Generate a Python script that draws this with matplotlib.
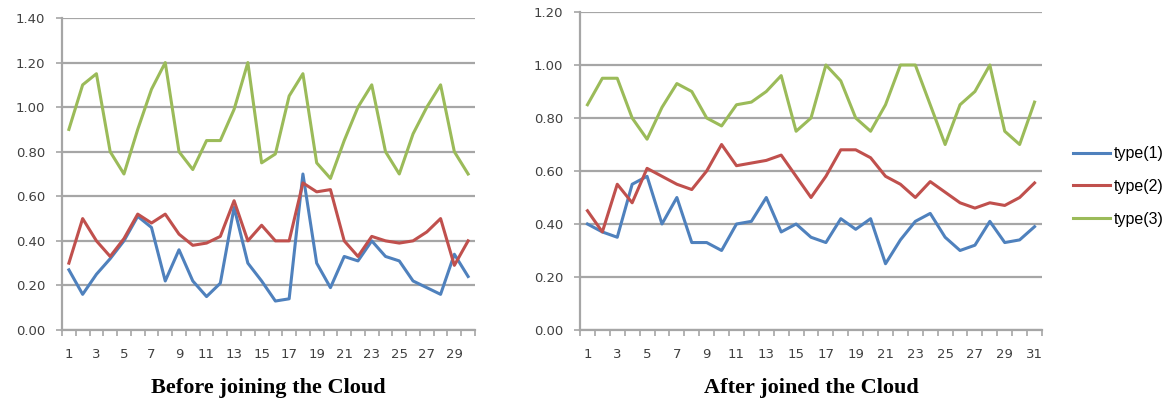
import matplotlib
matplotlib.use("Agg")
import matplotlib.pyplot as plt
import numpy as np

# values
before_type1 = [0.27, 0.16, 0.25, 0.32, 0.40, 0.51, 0.46, 0.22, 0.36, 0.22,
                0.15, 0.21, 0.55, 0.30, 0.22, 0.13, 0.14, 0.70, 0.30, 0.19,
                0.33, 0.31, 0.40, 0.33, 0.31, 0.22, 0.19, 0.16, 0.34, 0.24]
before_type2 = [0.30, 0.50, 0.40, 0.33, 0.41, 0.52, 0.48, 0.52, 0.43, 0.38,
                0.39, 0.42, 0.58, 0.40, 0.47, 0.40, 0.40, 0.66, 0.62, 0.63,
                0.40, 0.33, 0.42, 0.40, 0.39, 0.40, 0.44, 0.50, 0.29, 0.40]
before_type3 = [0.90, 1.10, 1.15, 0.80, 0.70, 0.90, 1.08, 1.20, 0.80, 0.72,
                0.85, 0.85, 0.99, 1.20, 0.75, 0.79, 1.05, 1.15, 0.75, 0.68,
                0.85, 1.00, 1.10, 0.80, 0.70, 0.88, 1.00, 1.10, 0.80, 0.70]

after_type1 = [0.40, 0.37, 0.35, 0.55, 0.58, 0.40, 0.50, 0.33, 0.33, 0.30,
               0.40, 0.41, 0.50, 0.37, 0.40, 0.35, 0.33, 0.42, 0.38, 0.42,
               0.25, 0.34, 0.41, 0.44, 0.35, 0.30, 0.32, 0.41, 0.33, 0.34, 0.39]
after_type2 = [0.45, 0.37, 0.55, 0.48, 0.61, 0.58, 0.55, 0.53, 0.60, 0.70,
               0.62, 0.63, 0.64, 0.66, 0.58, 0.50, 0.58, 0.68, 0.68, 0.65,
               0.58, 0.55, 0.50, 0.56, 0.52, 0.48, 0.46, 0.48, 0.47, 0.50, 0.555]
after_type3 = [0.85, 0.95, 0.95, 0.80, 0.72, 0.84, 0.93, 0.90, 0.80, 0.77,
               0.85, 0.86, 0.90, 0.96, 0.75, 0.80, 1.00, 0.94, 0.80, 0.75,
               0.85, 1.00, 1.00, 0.85, 0.70, 0.85, 0.90, 1.00, 0.75, 0.70, 0.86]

series_names = ["type(1)", "type(2)", "type(3)"]
colors = ["#4F81BD", "#C0504D", "#9BBB59"]
titles = ["Before joining the Cloud", "After joined the Cloud"]

fig = plt.figure(figsize=(11.73, 4.07), dpi=100)
ax1 = fig.add_axes([62 / 1173, 1 - 330 / 407, 413 / 1173, 312 / 407])
ax2 = fig.add_axes([580 / 1173, 1 - 330 / 407, 462 / 1173, 318 / 407])


def style_axis(ax, data, ymax, title):
    n = len(data[0])
    x = np.arange(1, n + 1)
    for vals, name, c in zip(data, series_names, colors):
        ax.plot(x, vals, color=c, linewidth=2.2, label=name)

    ax.set_xlim(0.5, n + 0.5)
    ax.set_ylim(0, ymax)
    yt = np.arange(0, ymax + 0.001, 0.2)
    ax.set_yticks(yt)
    ax.set_yticklabels([f"{v:.2f}" for v in yt])
    ax.grid(axis="y", color="#A6A6A6", linewidth=1.6)
    ax.set_axisbelow(True)

    ax.set_xticks(x[::2])
    ax.set_xticklabels([str(i) for i in x[::2]])
    ax.set_xticks(np.arange(0.5, n + 1), minor=True)
    ax.tick_params(axis="x", which="major", length=0, pad=13,
                   labelsize=9.5, labelcolor="#404040")
    ax.tick_params(axis="x", which="minor", length=4, width=1.2,
                   color="#A6A6A6")
    ax.tick_params(axis="y", length=4, width=1.2, color="#A6A6A6", pad=8,
                   labelsize=9.5, labelcolor="#404040")

    for side in ["top", "right"]:
        ax.spines[side].set_visible(False)
    for side in ["left", "bottom"]:
        ax.spines[side].set_color("#A6A6A6")
        ax.spines[side].set_linewidth(1.6)

    # title sits below the axis, like the caption in the original
    pos = ax.get_position()
    fig.text(pos.x0 + pos.width / 2, 1 - 388 / 407, title, ha="center",
             va="center", fontsize=16, fontweight="bold",
             family="Liberation Serif", color="black")


style_axis(ax1, [before_type1, before_type2, before_type3], 1.40, titles[0])
style_axis(ax2, [after_type1, after_type2, after_type3], 1.20, titles[1])

handles, labels = ax2.get_legend_handles_labels()
fig.legend(handles, labels, loc="upper left",
           bbox_to_anchor=(1059 / 1173, 1 - 132 / 407),
           frameon=False, handlelength=2.3, handletextpad=0.25,
           labelspacing=1.1, prop={"family": "Liberation Sans", "size": 11.5})

fig.savefig("out.png", dpi=100)
